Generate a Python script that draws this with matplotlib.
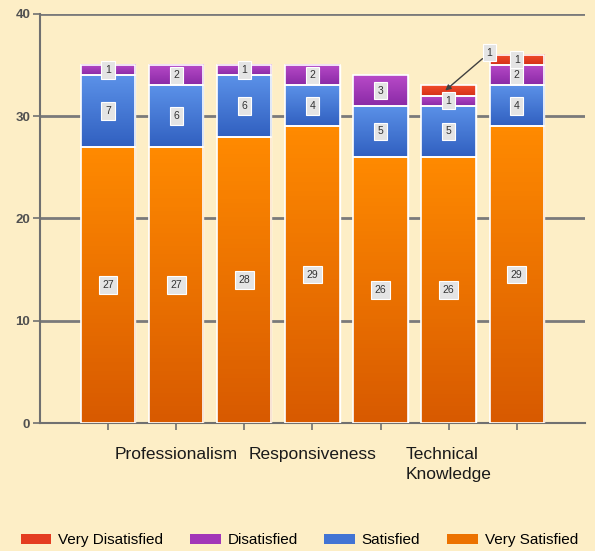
import matplotlib.pyplot as plt
import numpy as np
from matplotlib.colors import LinearSegmentedColormap
from matplotlib.patches import Patch

plt.rcParams['font.family'] = ['Liberation Sans', 'DejaVu Sans']

# survey answers per question (7 questions, every second one labelled)
bar_pos = [1, 2, 3, 4, 5, 6, 7]
tick_labels = ['', 'Professionalism', '', 'Responsiveness', '', 'Technical\nKnowledge', '']
very_satisfied = [27, 27, 28, 29, 26, 26, 29]
satisfied = [7, 6, 6, 4, 5, 5, 4]
disatisfied = [1, 2, 1, 2, 3, 1, 2]
very_disatisfied = [0, 0, 0, 0, 0, 1, 1]

# name, values, bottom shade, top shade, legend swatch
series = [
    ('Very Satisfied', very_satisfied, '#D85A00', '#FF8A00', '#EC7200'),
    ('Satisfied', satisfied, '#3160C0', '#5B91E8', '#4274D4'),
    ('Disatisfied', disatisfied, '#8A2AA6', '#B84AC8', '#A236B8'),
    ('Very Disatisfied', very_disatisfied, '#D43018', '#F24C2A', '#E43C20'),
]

bg = '#FDEEC6'
width = 0.8
grad = np.linspace(0, 1, 64).reshape(-1, 1)

fig = plt.figure(figsize=(5.95, 5.51), dpi=100, facecolor=bg)
ax = fig.add_axes([0.067, 0.232, 0.916, 0.743])
ax.set_facecolor(bg)

swatches = {}
bottom = np.zeros(len(bar_pos))
for name, vals, dark, light, mid in series:
    vals = np.array(vals, dtype=float)
    cmap = LinearSegmentedColormap.from_list(name, [dark, light])
    bars = ax.bar(bar_pos, vals, width, bottom=bottom, color=light,
                  edgecolor='white', linewidth=1, zorder=3, label=name)
    swatches[name] = Patch(facecolor=mid, edgecolor='none')
    for x, v, b in zip(bar_pos, vals, bottom):
        if v <= 0:
            continue
        # vertical shading inside each segment
        ax.imshow(grad, cmap=cmap, origin='lower', aspect='auto', zorder=3.5,
                  extent=[x - width / 2, x + width / 2, b, b + v])
        ax.add_patch(plt.Rectangle((x - width / 2, b), width, v, fill=False,
                                   edgecolor='#FFFFFF', linewidth=1.2, zorder=4))
        # value labels in small grey boxes
        box = dict(boxstyle='square,pad=0.35', fc='#E4E4E4', ec='white', lw=0.8)
        if name == 'Very Disatisfied' and x == 6:
            ax.annotate(f'{v:.0f}', xy=(x - 0.05, b + v / 2), xytext=(x + 0.6, 36.2),
                        ha='center', va='center', fontsize=7.5, color='#333333', zorder=6,
                        bbox=box,
                        arrowprops=dict(arrowstyle='-|>', color='#404040', lw=1,
                                        mutation_scale=8, shrinkA=0, shrinkB=0))
        else:
            ax.text(x, b + v / 2, f'{v:.0f}', ha='center', va='center', fontsize=7.5,
                    color='#333333', zorder=6, bbox=box)
    bottom = bottom + vals

ax.set_xlim(0, 8)
ax.set_ylim(0, 40)
ax.set_yticks([0, 10, 20, 30, 40])
ax.set_xticks(bar_pos)
ax.set_xticklabels(tick_labels, fontsize=12.5, color='#1A1A1A')
for lbl in ax.get_xticklabels():
    lbl.set_multialignment('left')
    lbl.set_linespacing(1.45)
ax.tick_params(axis='x', length=5, width=1.2, color='#707070', pad=12)
ax.tick_params(axis='y', length=5, width=1.2, color='#707070', labelsize=9.5,
               labelcolor='#505050', pad=2)
for lbl in ax.get_yticklabels():
    lbl.set_fontweight('bold')

ax.grid(axis='y', color='#7A7A7A', linewidth=2, zorder=1)
ax.set_axisbelow(True)
for side in ['top', 'right']:
    ax.spines[side].set_visible(False)
for side in ['left', 'bottom']:
    ax.spines[side].set_color('#707070')
    ax.spines[side].set_linewidth(1.5)

order = ['Very Disatisfied', 'Disatisfied', 'Satisfied', 'Very Satisfied']
fig.legend([swatches[n] for n in order], order, loc='center', bbox_to_anchor=(0.503, 0.02),
           ncol=4, frameon=False, fontsize=11, handlelength=2.0, handleheight=0.65,
           handletextpad=0.45, columnspacing=1.75)

fig.savefig('out.png', dpi=100, facecolor=bg)
